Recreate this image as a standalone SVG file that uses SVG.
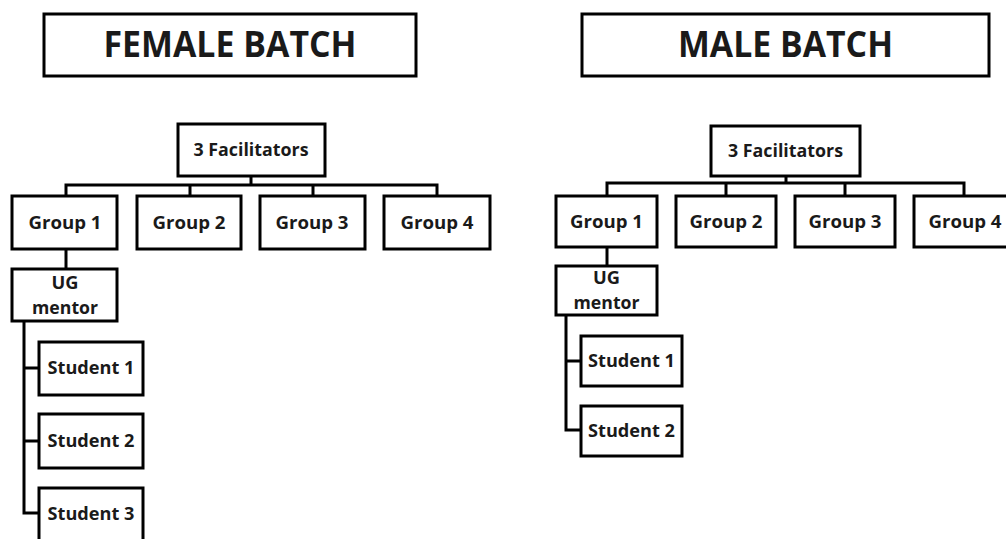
<svg xmlns="http://www.w3.org/2000/svg" width="1006" height="539" viewBox="0 0 1006 539">
<style>
.box{fill:#fff;stroke:#000;stroke-width:3}
.ln{fill:none;stroke:#000;stroke-width:3}
text{font-family:"Open Sans","Liberation Sans",sans-serif;font-weight:bold;fill:#1a1a1a;text-anchor:middle}
.t{font-size:36px}
.n{font-size:18px}
</style>
<rect width="1006" height="539" fill="#fff"/>
<g id="connectors">
<path class="ln" d="M251,176V185M66,196V185H437V196M190,185V196M313,185V196"/>
<path class="ln" d="M66,249V269"/>
<path class="ln" d="M24,321V513H39M24,368H39M24,441H39"/>
<path class="ln" d="M786,176V183M607,196V183H964V196M726,183V196M845,183V196"/>
<path class="ln" d="M607,247V266"/>
<path class="ln" d="M566,315V430H581M566,361H581"/>
</g>
<g id="female-title"><rect class="box" x="44" y="14" width="372" height="62"/><text class="t" x="230" y="57" textLength="253" lengthAdjust="spacingAndGlyphs">FEMALE BATCH</text></g>
<g id="f-facilitators"><rect class="box" x="178" y="124" width="147" height="52"/><text class="n" x="251" y="156" textLength="115" lengthAdjust="spacingAndGlyphs">3 Facilitators</text></g>
<g id="f-group1"><rect class="box" x="12" y="196" width="105" height="53"/><text class="n" x="65" y="229" textLength="73" lengthAdjust="spacingAndGlyphs">Group 1</text></g>
<g id="f-group2"><rect class="box" x="137" y="196" width="104" height="53"/><text class="n" x="189" y="229" textLength="73" lengthAdjust="spacingAndGlyphs">Group 2</text></g>
<g id="f-group3"><rect class="box" x="260" y="196" width="105" height="53"/><text class="n" x="312" y="229" textLength="73" lengthAdjust="spacingAndGlyphs">Group 3</text></g>
<g id="f-group4"><rect class="box" x="384" y="196" width="106" height="53"/><text class="n" x="437" y="229" textLength="73" lengthAdjust="spacingAndGlyphs">Group 4</text></g>
<g id="f-mentor"><rect class="box" x="12" y="269" width="105" height="52"/><text class="n" x="65" y="289" textLength="27" lengthAdjust="spacingAndGlyphs">UG</text><text class="n" x="65" y="314" textLength="66" lengthAdjust="spacingAndGlyphs">mentor</text></g>
<g id="f-student1"><rect class="box" x="39" y="342" width="104" height="53"/><text class="n" x="91" y="374" textLength="87" lengthAdjust="spacingAndGlyphs">Student 1</text></g>
<g id="f-student2"><rect class="box" x="39" y="414" width="104" height="54"/><text class="n" x="91" y="447" textLength="87" lengthAdjust="spacingAndGlyphs">Student 2</text></g>
<g id="f-student3"><rect class="box" x="39" y="488" width="104" height="54"/><text class="n" x="91" y="520" textLength="87" lengthAdjust="spacingAndGlyphs">Student 3</text></g>
<g id="male-title"><rect class="box" x="582" y="14" width="407" height="62"/><text class="t" x="785.5" y="57" textLength="215" lengthAdjust="spacingAndGlyphs">MALE BATCH</text></g>
<g id="m-facilitators"><rect class="box" x="711" y="126" width="149" height="50"/><text class="n" x="785.5" y="157" textLength="115" lengthAdjust="spacingAndGlyphs">3 Facilitators</text></g>
<g id="m-group1"><rect class="box" x="556" y="196" width="101" height="51"/><text class="n" x="606.5" y="228" textLength="73" lengthAdjust="spacingAndGlyphs">Group 1</text></g>
<g id="m-group2"><rect class="box" x="676" y="196" width="100" height="51"/><text class="n" x="726" y="228" textLength="73" lengthAdjust="spacingAndGlyphs">Group 2</text></g>
<g id="m-group3"><rect class="box" x="795" y="196" width="100" height="51"/><text class="n" x="845" y="228" textLength="73" lengthAdjust="spacingAndGlyphs">Group 3</text></g>
<g id="m-group4"><rect class="box" x="914" y="196" width="100" height="51"/><text class="n" x="965" y="228" textLength="73" lengthAdjust="spacingAndGlyphs">Group 4</text></g>
<g id="m-mentor"><rect class="box" x="556" y="266" width="101" height="49"/><text class="n" x="606.5" y="284" textLength="27" lengthAdjust="spacingAndGlyphs">UG</text><text class="n" x="606.5" y="309" textLength="66" lengthAdjust="spacingAndGlyphs">mentor</text></g>
<g id="m-student1"><rect class="box" x="581" y="336" width="101" height="50"/><text class="n" x="631.5" y="367" textLength="87" lengthAdjust="spacingAndGlyphs">Student 1</text></g>
<g id="m-student2"><rect class="box" x="581" y="406" width="101" height="50"/><text class="n" x="631.5" y="437" textLength="87" lengthAdjust="spacingAndGlyphs">Student 2</text></g>
</svg>
